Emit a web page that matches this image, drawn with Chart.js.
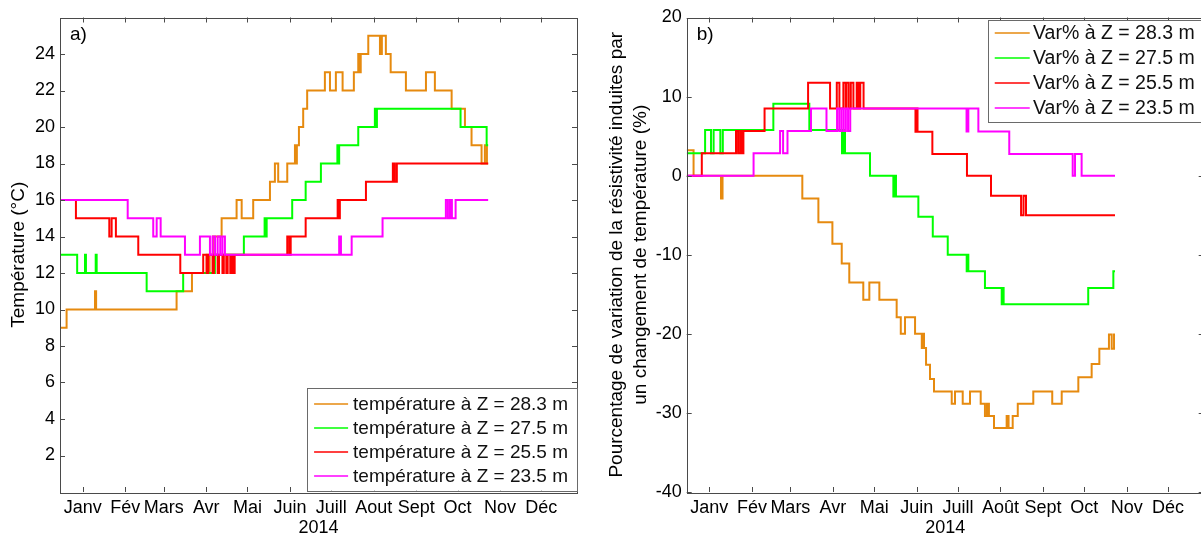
<!DOCTYPE html>
<html>
<head>
<meta charset="utf-8">
<script src="https://cdn.jsdelivr.net/npm/chart.js@4.4.1/dist/chart.umd.min.js"></script>
<style>
html, body { margin: 0; padding: 0; background: #fff; overflow: hidden; width: 1201px; height: 536px; }
#p1 { position: absolute; left: 0; top: 0; width: 600px; height: 540px; }
#p2 { position: absolute; left: 600px; top: 0; width: 620px; height: 540px; }
</style>
</head>
<body>
<div id="p1"><canvas id="chart1" width="600" height="540"></canvas></div>
<div id="p2"><canvas id="chart2" width="620" height="540"></canvas></div>
<script>
// jours depuis le 1er janvier 2014
const monthStarts = [0, 31, 59, 90, 120, 151, 181, 212, 243, 273, 304, 334]
const monthsA = ['Janv', 'Fév', 'Mars', 'Avr', 'Mai', 'Juin', 'Juill', 'Aout', 'Sept', 'Oct', 'Nov', 'Déc']
const monthsB = ['Janv', 'Fév', 'Mars', 'Avr', 'Mai', 'Juin', 'Juill', 'Août', 'Sept', 'Oct', 'Nov', 'Déc']
const tempTicks = [2, 4, 6, 8, 10, 12, 14, 16, 18, 20, 22, 24]
const varTicks = [-40, -30, -20, -10, 0, 10, 20]
const depths = ['28.3', '27.5', '25.5', '23.5']
const colors = ['#E68A0F', '#00FF00', '#FF0000', '#FF00FF']

// a) température
const t283Days = [-16.5, -11.7, 9.0, 9.8, 68.4, 79.6, 90.3, 91.5, 92.5, 94.9, 101.2, 112.1, 115.8, 124.2, 136.4, 140.0, 142.4, 149.0, 154.6, 155.3, 156, 157.5, 160.6, 163.5, 176.4, 180.1, 184.4, 189.3, 197.5, 200.7, 201.5, 202.5, 208.0, 216.5, 217.9, 220.8, 224.3, 235.4, 250.0, 256.5, 268.7, 278.4, 283.2, 290.5, 292.9, 294.4, 295.3]
const t283Vals = [9, 10, 11, 10, 11, 12, 13, 12, 13, 14, 15, 16, 15, 16, 17, 18, 17, 18, 19, 18, 19, 20, 21, 22, 23, 22, 23, 22, 23, 24, 23, 24, 25, 24, 25, 24, 23, 22, 23, 22, 21, 20, 19, 18, 19, 18, 18]
const t275Days = [-16.5, -4.0, 1.7, 2.4, 9.5, 10.2, 46.6, 73.2, 96.3, 117.4, 132.5, 133.2, 134, 152.6, 162.4, 173.5, 185.5, 186.2, 186.8, 200.7, 212.8, 213.5, 214.3, 275.2, 294.2, 295.3]
const t275Vals = [13, 12, 13, 12, 13, 12, 11, 12, 13, 14, 15, 14, 15, 16, 17, 18, 19, 18, 19, 20, 21, 20, 21, 20, 19, 19]
const t255Days = [-16.5, -4.9, 19.4, 21.1, 24.2, 40.5, 71.1, 87.8, 90.3, 91.5, 94.6, 95.6, 98.3, 99.3, 101.8, 102.8, 104.6, 105.6, 107.5, 108.5, 109.7, 110.7, 112.1, 149.0, 150.5, 151.5, 162.4, 185.7, 186.6, 187.3, 206.3, 225.9, 227.3, 228.8, 295.3]
const t255Vals = [16, 15, 14, 15, 14, 13, 12, 13, 12, 13, 12, 13, 12, 13, 12, 13, 12, 13, 12, 13, 12, 13, 13, 14, 13, 14, 15, 16, 15, 16, 17, 18, 17, 18, 18]
const t235Days = [-16.5, 32.8, 51.4, 53.9, 56.8, 74.5, 85.4, 92.7, 94.6, 96.4, 98.3, 100.2, 101.8, 103.6, 186.8, 188.1, 195.9, 218.4, 264.5, 266, 267.5, 268.9, 271.6, 295.3]
const t235Vals = [16, 15, 14, 15, 14, 13, 14, 13, 14, 13, 14, 13, 14, 13, 14, 13, 14, 15, 16, 15, 16, 15, 16, 16]

// b) variation de résistivité (%)
const v283Days = [-16.5, -11.5, 8.5, 9.6, 67.7, 79.4, 89.6, 96.4, 101.9, 112.1, 116.5, 123.8, 136.4, 139.4, 142.5, 149.8, 154.7, 155.5, 156.3, 157.8, 160.7, 163.6, 176.5, 178.9, 184.5, 189.8, 197.6, 200.7, 202.2, 203.6, 207.3, 216.5, 217.9, 220.9, 224.6, 235.9, 249.7, 256.6, 268.7, 278.4, 284.0, 291.0, 293.0, 294.7, 295.4]
const v283Vals = [3.2, 0, -2.9, 0, -2.9, -5.9, -8.6, -11.1, -13.5, -15.7, -13.5, -15.7, -17.9, -20.0, -17.9, -20.0, -21.8, -20.0, -21.8, -23.9, -25.7, -27.3, -28.85, -27.3, -28.85, -27.3, -28.85, -30.4, -28.85, -30.4, -31.9, -30.4, -31.9, -30.4, -28.85, -27.3, -28.85, -27.3, -25.5, -23.8, -21.9, -20.1, -21.9, -20.1, -20.1]
const v275Days = [-16.5, -3.1, 1.2, 3.1, 8.0, 9.8, 46.6, 72.8, 96.6, 97.7, 98.8, 117.0, 134.0, 135.2, 135.9, 152.2, 162.7, 173.6, 187.4, 188.0, 188.6, 200.7, 212.9, 213.6, 214.3, 275.9, 294.2, 295.4]
const v275Vals = [2.83, 5.77, 2.83, 5.77, 2.83, 5.77, 9.1, 5.77, 2.83, 5.77, 2.83, 0, -2.65, 0, -2.65, -5.2, -7.7, -10.0, -12.1, -10.0, -12.1, -14.2, -16.25, -14.2, -16.25, -14.2, -12.1, -12.1]
const v255Days = [-16.5, -5.5, 19.4, 20.9, 22.4, 23.8, 24.8, 40.2, 71.9, 87.9, 92.8, 94.7, 97.6, 99.3, 99.7, 101.4, 103.0, 104.9, 107.3, 108.5, 109.9, 112.3, 150.1, 150.9, 151.6, 162.4, 187.6, 205.1, 227.0, 228.8, 230.6, 295.4]
const v255Vals = [0, 2.83, 5.65, 2.83, 5.65, 2.83, 5.65, 8.5, 11.75, 8.5, 11.75, 8.5, 11.75, 8.5, 11.75, 8.5, 11.75, 8.5, 11.75, 8.5, 11.75, 8.5, 5.56, 8.5, 5.56, 2.74, 0, -2.53, -5.0, -2.53, -5.0, -5.0]
const v235Days = [-16.5, 32.2, 51.5, 53.7, 56.9, 74.0, 85.3, 93.0, 94.6, 96.2, 97.8, 99.4, 101.0, 102.6, 187.3, 188.6, 195.9, 218.4, 264.6, 266.3, 271.1, 295.4]
const v235Vals = [0, 2.83, 5.65, 2.83, 5.65, 8.5, 5.65, 8.5, 5.65, 8.5, 5.65, 8.5, 5.65, 8.5, 5.6, 8.5, 5.6, 2.74, 0, 2.74, 0, 0]

const FONT = '"Liberation Sans", Arial, sans-serif'
Chart.defaults.font.family = FONT
Chart.defaults.color = '#000'

function pts(days, vals) {
  return days.map((d, i) => ({x: d, y: vals[i]}))
}
function makeSets(prefix, series) {
  return series.map((s, i) => ({
    label: `${prefix} à Z = ${depths[i]} m`,
    data: pts(s[0], s[1]),
    borderColor: colors[i],
    backgroundColor: colors[i],
    borderWidth: 2,
    pointRadius: 0,
    stepped: 'before',
    order: 4 - i
  }))
}

// cadre, petites graduations intérieures, étiquette a)/b), légende
const cadre = {
  id: 'cadre',
  afterDatasetsDraw(chart, args, opts) {
    const {ctx, chartArea: a} = chart
    const x = chart.scales.x, y = chart.scales.y
    ctx.save()
    ctx.strokeStyle = '#4a4a4a'
    ctx.lineWidth = 1
    ctx.beginPath()
    x.ticks.forEach(t => {
      const px = Math.round(x.getPixelForValue(t.value)) + 0.5
      ctx.moveTo(px, a.bottom); ctx.lineTo(px, a.bottom - 5)
      ctx.moveTo(px, a.top); ctx.lineTo(px, a.top + 5)
    })
    y.ticks.forEach(t => {
      const py = Math.round(y.getPixelForValue(t.value)) + 0.5
      ctx.moveTo(a.left, py); ctx.lineTo(a.left + 5, py)
      ctx.moveTo(a.right, py); ctx.lineTo(a.right - 5, py)
    })
    ctx.stroke()
    ctx.strokeRect(Math.round(a.left) + 0.5, Math.round(a.top) + 0.5, Math.round(a.right - a.left), Math.round(a.bottom - a.top))

    ctx.fillStyle = '#000'
    ctx.font = `19px ${FONT}`
    ctx.textBaseline = 'middle'
    ctx.fillText(opts.label, a.left + 10, a.top + 17.5)

    const lg = opts.legend
    ctx.font = `${lg.size}px ${FONT}`
    const sets = chart.data.datasets
    const tw = Math.max(...sets.map(d => ctx.measureText(d.label).width))
    const w = lg.textX + tw + lg.padR
    const right = a.right
    const left = right - w
    const top = lg.anchor === 'bottom' ? a.bottom - lg.gap - lg.h : a.top + lg.gap
    ctx.fillStyle = '#fff'
    ctx.fillRect(left, top, w, lg.h)
    ctx.strokeStyle = '#6a6a6a'
    ctx.strokeRect(Math.round(left) + 0.5, Math.round(top) + 0.5, Math.round(w), Math.round(lg.h))
    sets.forEach((d, i) => {
      const cy = top + lg.first + i * lg.rowH
      ctx.strokeStyle = d.borderColor
      ctx.lineWidth = 1.5
      ctx.beginPath()
      ctx.moveTo(left + lg.lineX0, cy)
      ctx.lineTo(left + lg.lineX1, cy)
      ctx.stroke()
      ctx.fillStyle = '#111'
      ctx.fillText(d.label, left + lg.textX, cy + 1)
    })
    ctx.restore()
  }
}

function xScale(names) {
  return {
    type: 'linear',
    min: -16.5,
    max: 360,
    afterBuildTicks: s => { s.ticks = monthStarts.map(v => ({value: v})) },
    afterFit: s => { s.height = 48 },
    grid: {display: false, drawTicks: false},
    border: {display: false},
    ticks: {autoSkip: false, maxRotation: 0, padding: 5, font: {size: 18}, color: '#000',
      callback: (v, i) => names[i]},
    title: {display: true, text: '2014', font: {size: 18}, color: '#000', padding: {top: 0, bottom: 1}}
  }
}

const context = document.getElementById('chart1').getContext('2d')
const context2 = document.getElementById('chart2').getContext('2d')

new Chart(context, {
  type: 'line',
  data: {
    datasets: makeSets('température', [[t283Days, t283Vals], [t275Days, t275Vals], [t255Days, t255Vals], [t235Days, t235Vals]])
  },
  options: {
    responsive: false,
    animation: false,
    events: [],
    layout: {padding: {top: 17.5, right: 23, left: 0, bottom: 0}},
    scales: {
      x: xScale(monthsA),
      y: {
        min: 0, max: 26,
        afterBuildTicks: s => { s.ticks = tempTicks.map(v => ({value: v})) },
        afterFit: s => { s.width = 60 },
        grid: {display: false, drawTicks: false},
        border: {display: false},
        ticks: {padding: 5, font: {size: 18}, color: '#000'},
        title: {display: true, text: 'Température (°C)', font: {size: 19}, color: '#000', padding: {top: 7, bottom: 0}}
      }
    },
    plugins: {
      legend: {display: false},
      tooltip: {enabled: false},
      cadre: {label: 'a)', legend: {size: 19, anchor: 'bottom', gap: 1.3, h: 103, first: 16.3, rowH: 24, lineX0: 7.3, lineX1: 41.3, textX: 46.3, padR: 9}}
    }
  },
  plugins: [cadre]
})

new Chart(context2, {
  type: 'line',
  data: {
    datasets: makeSets('Var%', [[v283Days, v283Vals], [v275Days, v275Vals], [v255Days, v255Vals], [v235Days, v235Vals]])
  },
  options: {
    responsive: false,
    animation: false,
    events: [],
    layout: {padding: {top: 17.5, right: 16.3, left: 0, bottom: 0}},
    scales: {
      x: xScale(monthsB),
      y: {
        min: -40, max: 20,
        afterBuildTicks: s => { s.ticks = varTicks.map(v => ({value: v})) },
        afterFit: s => { s.width = 86.7 },
        grid: {display: false, drawTicks: false},
        border: {display: false},
        ticks: {padding: 5, font: {size: 18}, color: '#000'},
        title: {display: true, text: ['Pourcentage de variation de la résistivité induites par', 'un changement de température (%)'],
          font: {size: 19, lineHeight: 1.25}, color: '#000', padding: {top: 5, bottom: 0}}
      }
    },
    plugins: {
      legend: {display: false},
      tooltip: {enabled: false},
      cadre: {label: 'b)', legend: {size: 19.5, anchor: 'top', gap: 2.5, h: 101.7, first: 13, rowH: 25, lineX0: 6.7, lineX1: 41.7, textX: 45, padR: 9}}
    }
  },
  plugins: [cadre]
})
</script>
</body>
</html>
